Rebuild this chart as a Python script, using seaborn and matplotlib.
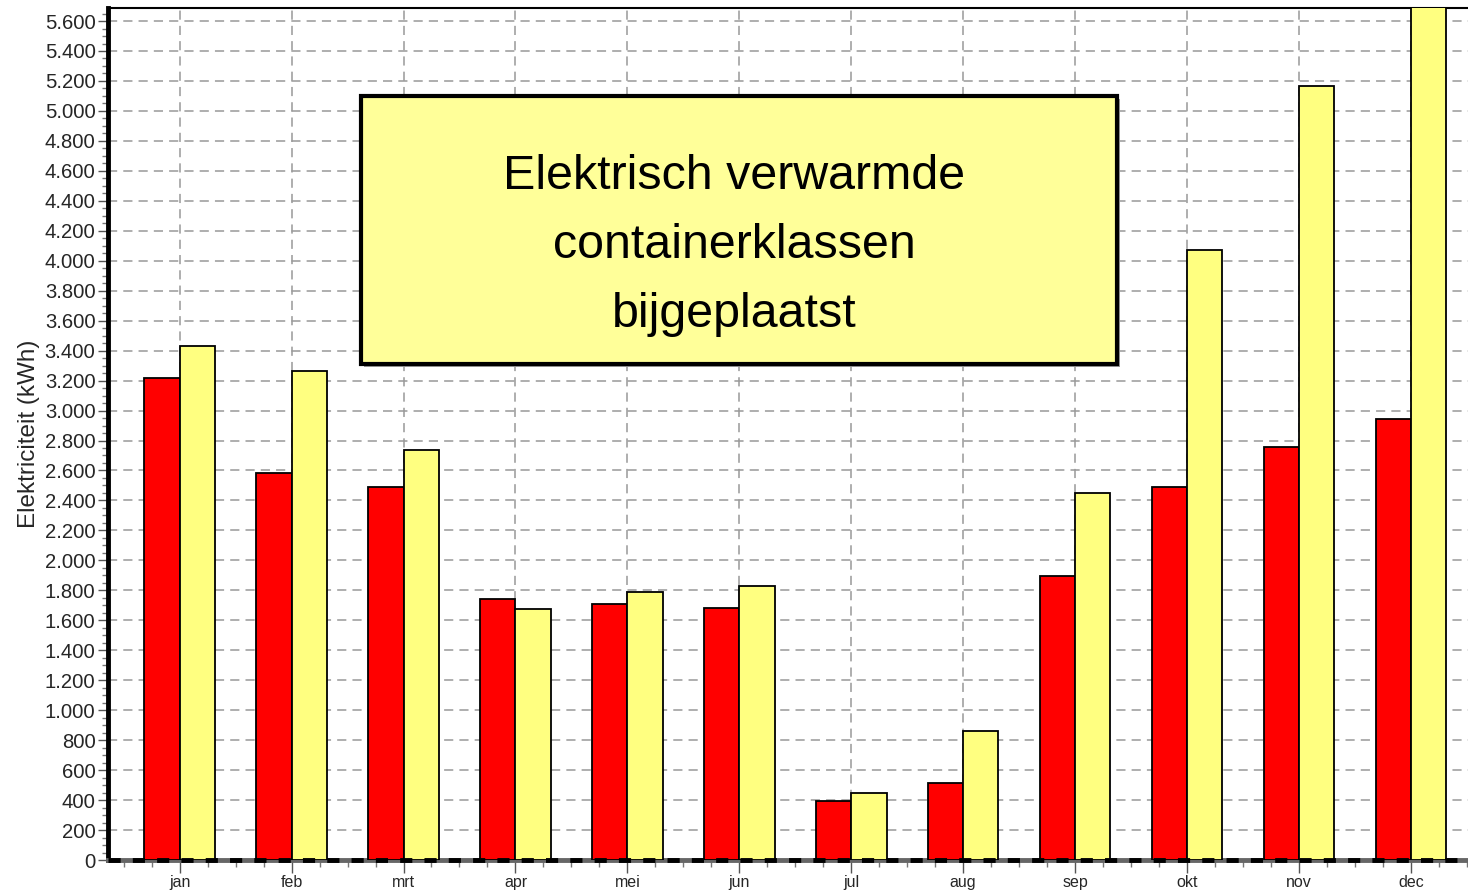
import matplotlib
matplotlib.use("Agg")
import matplotlib.pyplot as plt
import matplotlib.ticker as mticker
from matplotlib.patches import Rectangle
import seaborn as sns
import pandas as pd

months = ["jan", "feb", "mrt", "apr", "mei", "jun", "jul", "aug", "sep", "okt", "nov", "dec"]
series_names = ["voor", "na"]
values_red = [3220, 2580, 2490, 1740, 1710, 1680, 395, 515, 1895, 2490, 2757, 2945]
values_yellow = [3430, 3262, 2737, 1676, 1789, 1829, 447, 861, 2450, 4072, 5167, 5900]
yticks = list(range(0, 5601, 200))

sns.set_theme(style="white")
plt.rcParams["font.family"] = ["Liberation Sans", "DejaVu Sans"]

df = pd.DataFrame({
    "maand": months * 2,
    "reeks": [series_names[0]] * 12 + [series_names[1]] * 12,
    "waarde": values_red + values_yellow,
})

fig = plt.figure(figsize=(14.68, 8.92), dpi=100)
ax = fig.add_axes([108 / 1468, 1 - 860 / 892, 1 - 108 / 1468, (860 - 8) / 892])

sns.barplot(data=df, x="maand", y="waarde", hue="reeks", order=months,
            hue_order=series_names, palette=["#FF0000", "#FFFF80"], saturation=1,
            width=0.63, gap=0, edgecolor="black", linewidth=1.3,
            errorbar=None, legend=False, ax=ax, zorder=3)

ax.set_xlim(-0.64, 11.51)
ax.set_ylim(0, 5687)
ax.set_yticks(yticks)
ax.yaxis.set_major_formatter(mticker.FuncFormatter(lambda v, p: f"{int(v):,}".replace(",", ".")))
ax.yaxis.set_minor_locator(mticker.MultipleLocator(50))
ax.xaxis.set_minor_locator(mticker.MultipleLocator(0.25))
ax.tick_params(axis="y", which="major", direction="out", length=7, width=1, color="#555555",
               labelsize=14.6, pad=2, left=True)
ax.tick_params(axis="y", which="minor", direction="out", length=4, width=1, color="#777777", left=True)
ax.tick_params(axis="x", which="major", direction="out", length=9, width=1, color="#555555",
               labelsize=11.5, pad=2, bottom=True)
ax.tick_params(axis="x", which="minor", direction="out", length=5, width=1, color="#777777", bottom=True)

ax.set_xlabel("")
ax.set_ylabel("Elektriciteit (kWh)", fontsize=17.5, labelpad=3)

ax.set_axisbelow(True)
ax.grid(True, which="major", axis="both", color="#999999", linestyle=(0, (6, 4)), linewidth=1.1)

ax.spines["right"].set_visible(False)
ax.spines["left"].set_linewidth(3.5)
ax.spines["left"].set_color("black")
ax.spines["top"].set_linewidth(1.5)
ax.spines["top"].set_color("black")
ax.spines["bottom"].set_linewidth(3.5)
ax.spines["bottom"].set_color("#666666")
ax.axhline(0, color="black", linewidth=3.5, linestyle=(0, (2.5, 2.5)), zorder=4, clip_on=False)

# Annotation box (with slight shadow)
x0, x1, y0, y1 = 361, 1117, 96, 364
fig.patches.append(Rectangle(((x0 + 3) / 1468, 1 - (y1 + 3) / 892), (x1 - x0) / 1468, (y1 - y0) / 892,
                             transform=fig.transFigure, facecolor="#9a9a9a", edgecolor="none", zorder=5))
fig.patches.append(Rectangle((x0 / 1468, 1 - y1 / 892), (x1 - x0) / 1468, (y1 - y0) / 892,
                             transform=fig.transFigure, facecolor="#FFFF99", edgecolor="black",
                             linewidth=3, zorder=6))
cx = 734 / 1468
for line, base in zip(["Elektrisch verwarmde", "containerklassen", "bijgeplaatst"], [189, 258, 327]):
    fig.text(cx, 1 - base / 892, line, ha="center", va="baseline", fontsize=34.8, color="black", zorder=7)

fig.savefig("out.png", dpi=100)
